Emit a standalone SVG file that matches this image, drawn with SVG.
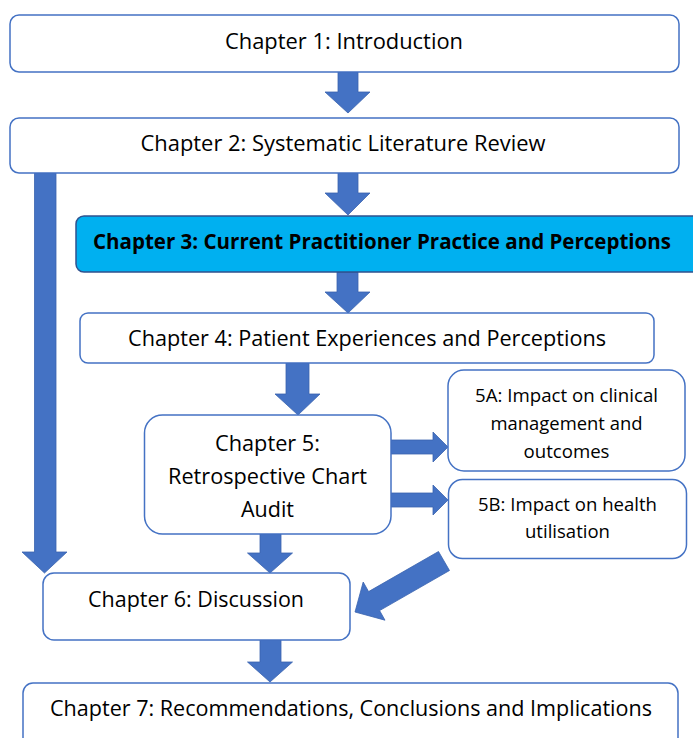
<svg xmlns="http://www.w3.org/2000/svg" width="693" height="738" viewBox="0 0 693 738">
<style>
.box{fill:#FFFFFF;stroke:#4472C4;stroke-width:1.5}
.hl{fill:#00B0F0;stroke:#2F528F;stroke-width:1.5}
.arr{fill:#4472C4;stroke:#3A63AE;stroke-width:0.8}
text{font-family:"Open Sans","Liberation Sans",sans-serif;fill:#000000;text-anchor:middle}
.t{font-size:21px}
.s{font-size:18px}
.b{font-weight:bold}
</style>
<rect width="693" height="738" fill="#FFFFFF"/>
<g id="connectors">
<polygon class="arr" points="338,72 358,72 358,92 370,92 348,113 325,92 338,92"/>
<polygon class="arr" points="338,173 358,173 358,193 370,193 348,215 325,193 338,193"/>
<polygon class="arr" points="337,272 358,272 358,292 370,292 348,313 325,292 337,292"/>
<polygon class="arr" points="286,363 309,363 309,394 320,394 298,415 275,394 286,394"/>
<polygon class="arr" points="34.5,173 56,173 56,552 67,552 44.5,573 22,552 34.5,552"/>
<polygon class="arr" points="391,440 433,440 433,432 448,447 433,462 433,454 391,454"/>
<polygon class="arr" points="391,493 433,493 433,485 448,500 433,515 433,507 391,507"/>
<polygon class="arr" points="260,534 281,534 281,553 292.5,553 270,573 247.5,553 260,553"/>
<polygon class="arr" points="260,640 281,640 281,662 292.5,662 270,682 247.5,662 260,662"/>
<polygon class="arr" points="438.5,551.5 449.5,570.5 379.6,610.6 385,620.2 355,612 363.2,582 368.6,591.6"/>
</g>
<g id="ch1">
<rect class="box" x="10" y="15" width="669" height="57" rx="9"/>
<text class="t" x="344" y="49" textLength="238" lengthAdjust="spacingAndGlyphs">Chapter 1: Introduction</text>
</g>
<g id="ch2">
<rect class="box" x="10" y="118" width="669" height="55" rx="9"/>
<text class="t" x="343" y="151" textLength="405" lengthAdjust="spacingAndGlyphs">Chapter 2: Systematic Literature Review</text>
</g>
<g id="ch3">
<rect class="hl" x="76" y="216" width="630" height="56" rx="8"/>
<text class="t b" x="382" y="249" textLength="578" lengthAdjust="spacingAndGlyphs">Chapter 3: Current Practitioner Practice and Perceptions</text>
</g>
<g id="ch4">
<rect class="box" x="80" y="313" width="574" height="50" rx="8"/>
<text class="t" x="367" y="346" textLength="478" lengthAdjust="spacingAndGlyphs">Chapter 4: Patient Experiences and Perceptions</text>
</g>
<g id="ch5">
<rect class="box" x="144.5" y="415" width="246.5" height="119" rx="18"/>
<text class="t" x="267.5" y="451" textLength="105" lengthAdjust="spacingAndGlyphs">Chapter 5:</text>
<text class="t" x="267.5" y="484" textLength="199" lengthAdjust="spacingAndGlyphs">Retrospective Chart</text>
<text class="t" x="267.5" y="517" textLength="53" lengthAdjust="spacingAndGlyphs">Audit</text>
</g>
<g id="ch5a">
<rect class="box" x="448" y="370" width="237" height="101" rx="16"/>
<text class="s" x="566.5" y="402" textLength="183" lengthAdjust="spacingAndGlyphs">5A: Impact on clinical</text>
<text class="s" x="566.5" y="430" textLength="152" lengthAdjust="spacingAndGlyphs">management and</text>
<text class="s" x="566.5" y="458" textLength="86" lengthAdjust="spacingAndGlyphs">outcomes</text>
</g>
<g id="ch5b">
<rect class="box" x="448.5" y="479.5" width="238" height="79" rx="14"/>
<text class="s" x="567.5" y="511" textLength="179" lengthAdjust="spacingAndGlyphs">5B: Impact on health</text>
<text class="s" x="567.5" y="538" textLength="85" lengthAdjust="spacingAndGlyphs">utilisation</text>
</g>
<g id="ch6">
<rect class="box" x="43" y="573" width="307" height="67" rx="11"/>
<text class="t" x="196" y="607" textLength="216" lengthAdjust="spacingAndGlyphs">Chapter 6: Discussion</text>
</g>
<g id="ch7">
<rect class="box" x="23" y="683" width="655" height="70" rx="10"/>
<text class="t" x="351" y="716" textLength="602" lengthAdjust="spacingAndGlyphs">Chapter 7: Recommendations, Conclusions and Implications</text>
</g>
</svg>
